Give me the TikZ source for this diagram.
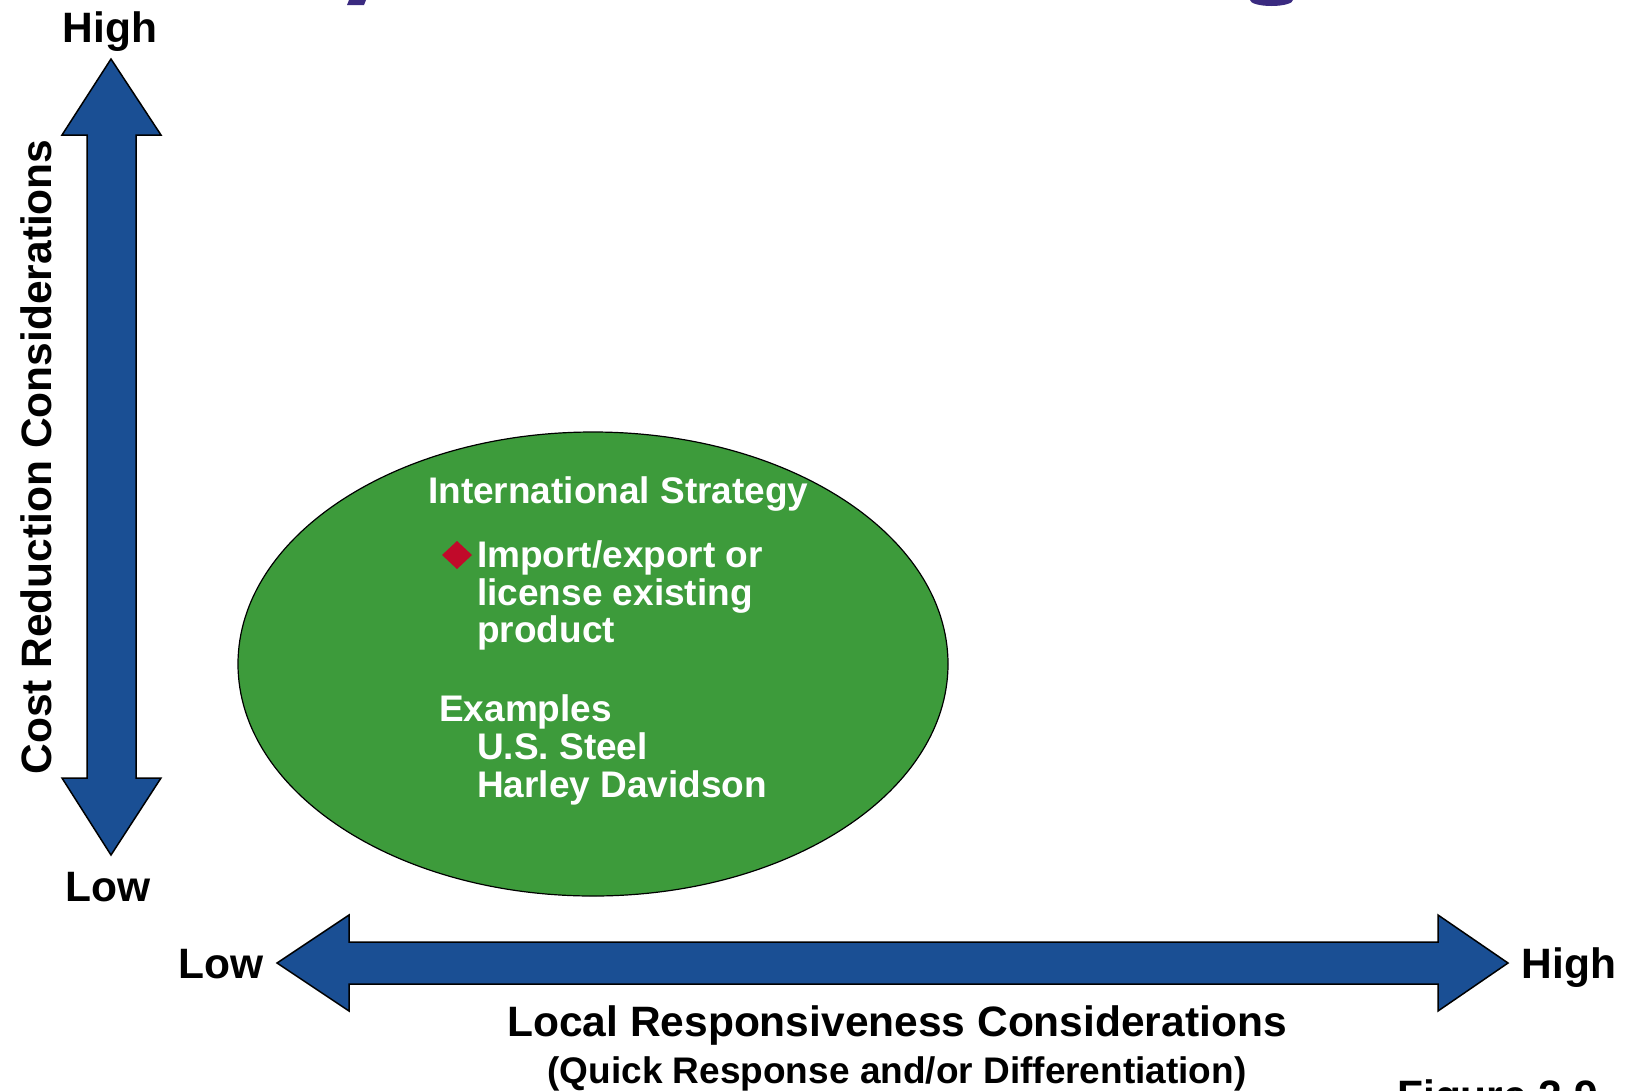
\documentclass[tikz,border=0pt]{standalone}
\usepackage{fontspec}
\setmainfont{Liberation Sans}
\usetikzlibrary{shapes.geometric}
\definecolor{axisblue}{RGB}{26,79,148}
\definecolor{ovalgreen}{RGB}{61,155,59}
\definecolor{bulletred}{RGB}{193,10,42}
\definecolor{titlepurple}{RGB}{58,42,128}
\begin{document}
\begin{tikzpicture}[x=1pt,y=-1pt,
  axisarrow/.style={fill=axisblue,draw=black,line width=1.5pt,line join=miter},
  biglabel/.style={font=\fontsize{42.5}{48}\selectfont\bfseries,inner sep=0pt,anchor=base},
  sublabel/.style={font=\fontsize{37}{42}\selectfont\bfseries,inner sep=0pt,anchor=base},
  ovaltext/.style={font=\fontsize{37}{42}\selectfont\bfseries,text=white,inner sep=0pt,anchor=base west},
  ]
\useasboundingbox (0,0) rectangle (1629,1090);
\clip (0,0) rectangle (1629,1090);
% cut-off title fragments
\fill[titlepurple] (349,0) -- (366,0) -- (364,5) -- (347,5) -- cycle;
\fill[titlepurple] (1250,0) arc[start angle=180,end angle=360,x radius=21.5,y radius=-6] -- cycle;
% vertical axis arrow
\draw[axisarrow] (111,59) -- (161,135) -- (136,135) -- (136,778) -- (161,778) -- (111,855)
  -- (62,778) -- (87,778) -- (87,135) -- (62,135) -- cycle;
% horizontal axis arrow
\draw[axisarrow] (277,963) -- (349,915) -- (349,942) -- (1438,942) -- (1438,915) -- (1508,963)
  -- (1438,1011) -- (1438,984) -- (349,984) -- (349,1011) -- cycle;
% axis labels
\node[biglabel] (vhigh) at (110,42) {High};
\node[biglabel] (vlow) at (108,901) {Low};
\node[biglabel] (hlow) at (221,978) {Low};
\node[biglabel] (hhigh) at (1569,978) {High};
\node[biglabel,rotate=90] (vtitle) at (51,457) {Cost Reduction Considerations};
\node[biglabel] (htitle) at (897,1036) {Local Responsiveness Considerations};
\node[sublabel] (hsub) at (897,1083) {(Quick Response and/or Differentiation)};
\node[biglabel,anchor=base west] (fig) at (1397,1110) {Figure 2.9};
% oval
\node[ellipse,draw=black,line width=1.2pt,fill=ovalgreen,minimum width=710,minimum height=464,inner sep=0] (oval) at (593,664) {};
\node[ovaltext] (ttl) at (428,503) {International Strategy};
\fill[bulletred] (457,541) -- (472,555) -- (457,569) -- (442,555) -- cycle;
\node[ovaltext] (l1) at (477,567) {Import/export or};
\node[ovaltext] (l2) at (477,605) {license existing};
\node[ovaltext] (l3) at (477,642) {product};
\node[ovaltext] (ex) at (439,721) {Examples};
\node[ovaltext] (e1) at (477,759) {U.S. Steel};
\node[ovaltext] (e2) at (477,797) {Harley Davidson};
\end{tikzpicture}
\end{document}
